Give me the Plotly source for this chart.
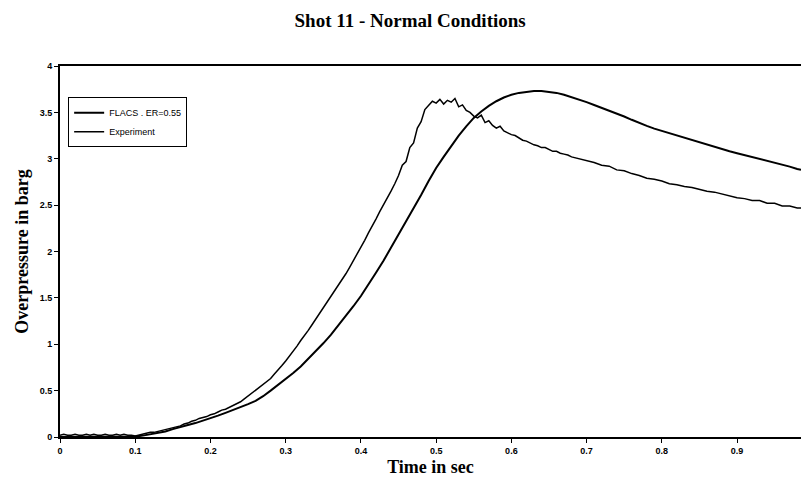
import plotly.graph_objects as go

# ---- data ----
flacs_t = [0.00, 0.05, 0.09, 0.10, 0.11, 0.12, 0.13, 0.14, 0.15, 0.16, 0.17, 0.18, 0.19,
           0.20, 0.21, 0.22, 0.23, 0.24, 0.25, 0.26, 0.27, 0.28, 0.29, 0.30, 0.31, 0.32,
           0.33, 0.34, 0.35, 0.36, 0.37, 0.38, 0.39, 0.40, 0.41, 0.42, 0.43, 0.44, 0.45,
           0.46, 0.47, 0.48, 0.49, 0.50, 0.51, 0.52, 0.53, 0.54, 0.55, 0.56, 0.57, 0.58,
           0.59, 0.60, 0.61, 0.62, 0.63, 0.64, 0.65, 0.66, 0.67, 0.68, 0.69, 0.70, 0.71,
           0.72, 0.73, 0.74, 0.75, 0.76, 0.77, 0.78, 0.79, 0.80, 0.81, 0.82, 0.83, 0.84,
           0.85, 0.86, 0.87, 0.88, 0.89, 0.90, 0.91, 0.92, 0.93, 0.94, 0.95, 0.96, 0.97,
           0.98, 0.985]
flacs_p = [0.0, 0.0, 0.0, 0.005, 0.015, 0.03, 0.045, 0.06, 0.085, 0.11, 0.13, 0.15, 0.175,
           0.20, 0.23, 0.26, 0.29, 0.32, 0.355, 0.39, 0.44, 0.50, 0.56, 0.62, 0.69, 0.76,
           0.84, 0.92, 1.01, 1.10, 1.20, 1.30, 1.41, 1.52, 1.64, 1.77, 1.90, 2.04, 2.18,
           2.32, 2.47, 2.61, 2.76, 2.90, 3.02, 3.14, 3.25, 3.35, 3.44, 3.51, 3.57, 3.62,
           3.66, 3.69, 3.71, 3.72, 3.73, 3.73, 3.72, 3.71, 3.69, 3.665, 3.64, 3.61, 3.58,
           3.55, 3.52, 3.49, 3.455, 3.42, 3.385, 3.355, 3.325, 3.30, 3.275, 3.25, 3.225, 3.20,
           3.175, 3.15, 3.125, 3.10, 3.08, 3.06, 3.04, 3.02, 3.00, 2.98, 2.96, 2.94, 2.915,
           2.89, 2.88]

exp_t = [0.000, 0.005, 0.010, 0.015, 0.020, 0.025, 0.030, 0.035, 0.040, 0.045, 0.050,
         0.055, 0.060, 0.065, 0.070, 0.075, 0.080, 0.085, 0.090, 0.095, 0.100,
         0.105, 0.110, 0.115, 0.120, 0.125, 0.130, 0.135, 0.140, 0.145, 0.150,
         0.155, 0.160, 0.165, 0.170, 0.175, 0.180, 0.185, 0.190, 0.195, 0.200,
         0.205, 0.210, 0.215, 0.220, 0.225, 0.230, 0.235, 0.240, 0.245, 0.250,
         0.255, 0.260, 0.265, 0.270, 0.275, 0.280, 0.285, 0.290, 0.295, 0.300,
         0.305, 0.310, 0.315, 0.320, 0.325, 0.330, 0.335, 0.340, 0.345, 0.350,
         0.355, 0.360, 0.365, 0.370, 0.375, 0.380, 0.385, 0.390, 0.395, 0.400,
         0.405, 0.410, 0.415, 0.420, 0.425, 0.430, 0.435, 0.440, 0.445, 0.450,
         0.455, 0.460, 0.465, 0.470, 0.475, 0.480, 0.485, 0.490, 0.495, 0.500,
         0.505, 0.510, 0.515, 0.520, 0.525, 0.530, 0.535, 0.540, 0.545, 0.550,
         0.555, 0.560, 0.565, 0.570, 0.575, 0.580, 0.585, 0.590, 0.595, 0.600,
         0.605, 0.610, 0.615, 0.620, 0.625, 0.630, 0.635, 0.640, 0.645, 0.650,
         0.655, 0.660, 0.665, 0.670, 0.675, 0.680, 0.685, 0.690, 0.695, 0.700,
         0.710, 0.720, 0.730, 0.740, 0.750, 0.760, 0.770, 0.780, 0.790, 0.800,
         0.810, 0.820, 0.830, 0.840, 0.850, 0.860, 0.870, 0.880, 0.890, 0.900,
         0.910, 0.920, 0.930, 0.940, 0.950, 0.960, 0.970, 0.980, 0.985]
exp_p = [0.02, 0.03, 0.02, 0.02, 0.03, 0.02, 0.02, 0.03, 0.02, 0.03, 0.02,
         0.02, 0.03, 0.02, 0.02, 0.03, 0.02, 0.03, 0.02, 0.02, 0.01,
         0.02, 0.03, 0.04, 0.05, 0.05, 0.06, 0.07, 0.08, 0.09, 0.10,
         0.11, 0.12, 0.14, 0.15, 0.17, 0.18, 0.20, 0.21, 0.22, 0.24,
         0.25, 0.27, 0.29, 0.30, 0.32, 0.34, 0.36, 0.38, 0.41, 0.44,
         0.47, 0.50, 0.53, 0.56, 0.60, 0.63, 0.68, 0.72, 0.77, 0.82,
         0.87, 0.93, 0.98, 1.04, 1.09, 1.15, 1.21, 1.27, 1.33, 1.39,
         1.45, 1.51, 1.57, 1.63, 1.70, 1.76, 1.83, 1.90, 1.97, 2.05,
         2.12, 2.20, 2.27, 2.35, 2.43, 2.50, 2.57, 2.65, 2.73, 2.82,
         2.93, 2.97, 3.12, 3.17, 3.33, 3.40, 3.53, 3.57, 3.62, 3.60,
         3.64, 3.59, 3.63, 3.61, 3.65, 3.56, 3.58, 3.52, 3.50, 3.46,
         3.44, 3.47, 3.39, 3.41, 3.36, 3.33, 3.35, 3.30, 3.28, 3.26,
         3.25, 3.22, 3.20, 3.19, 3.17, 3.15, 3.14, 3.12, 3.12, 3.10,
         3.08, 3.08, 3.06, 3.05, 3.04, 3.02, 3.01, 3.00, 2.99, 2.98,
         2.96, 2.93, 2.92, 2.88, 2.87, 2.84, 2.82, 2.79, 2.78, 2.76,
         2.73, 2.72, 2.70, 2.69, 2.67, 2.65, 2.64, 2.62, 2.60, 2.58,
         2.57, 2.55, 2.55, 2.52, 2.52, 2.49, 2.49, 2.47, 2.47]

x_ticks = [0, 0.1, 0.2, 0.3, 0.4, 0.5, 0.6, 0.7, 0.8, 0.9]
x_tick_labels = ["0", "0.1", "0.2", "0.3", "0.4", "0.5", "0.6", "0.7", "0.8", "0.9"]
y_ticks = [0, 0.5, 1, 1.5, 2, 2.5, 3, 3.5, 4]
y_tick_labels = ["0", "0.5", "1", "1.5", "2", "2.5", "3", "3.5", "4"]

fig = go.Figure()
fig.add_trace(go.Scatter(x=flacs_t, y=flacs_p, mode="lines", name="FLACS . ER=0.55",
                         line=dict(color="black", width=2)))
fig.add_trace(go.Scatter(x=exp_t, y=exp_p, mode="lines", name="Experiment",
                         line=dict(color="black", width=1.5)))

tickfont = dict(family="Liberation Sans", size=9, color="black", weight="bold")
fig.update_layout(
    width=801, height=485,
    margin=dict(l=60, r=0, t=66, b=48),
    paper_bgcolor="white", plot_bgcolor="white",
    title=dict(text="Shot 11 - Normal Conditions", x=0.512, xanchor="center", y=0.959, yanchor="middle",
               font=dict(family="Liberation Serif", size=19, color="black", weight="bold")),
    legend=dict(x=0.011, y=0.916, xanchor="left", yanchor="top", bgcolor="white",
                bordercolor="black", borderwidth=1,
                font=dict(family="Liberation Sans", size=9, color="black"),
                tracegroupgap=0, itemwidth=30),
    showlegend=True,
)
fig.update_xaxes(range=[0, 0.985], tickvals=x_ticks, ticktext=x_tick_labels, tickfont=tickfont,
                 showgrid=False, zeroline=False, showline=True, linecolor="black", linewidth=2,
                 mirror=True, ticks="outside", ticklen=4, tickcolor="black",
                 title=dict(text="Time in sec", standoff=6,
                            font=dict(family="Liberation Serif", size=18, color="black", weight="bold")))
fig.update_yaxes(range=[0, 4], tickvals=y_ticks, ticktext=y_tick_labels, tickfont=tickfont,
                 showgrid=False, zeroline=False, showline=True, linecolor="black", linewidth=2,
                 ticks="outside", ticklen=4, tickcolor="black",
                 title=dict(text="Overpressure in barg", standoff=6,
                            font=dict(family="Liberation Serif", size=18, color="black", weight="bold")))

fig.write_html("out.html", config={"displayModeBar": False},
               post_script="document.body.style.margin='0';")
